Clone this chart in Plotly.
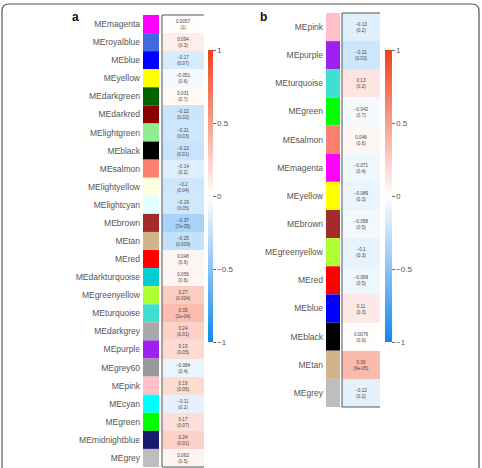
import plotly.graph_objects as go

W, H = 482, 468

# ---------------- data: panel a ----------------
a_labels = ["MEmagenta", "MEroyalblue", "MEblue", "MEyellow", "MEdarkgreen", "MEdarkred",
            "MElightgreen", "MEblack", "MEsalmon", "MElightyellow", "MElightcyan", "MEbrown",
            "MEtan", "MEred", "MEdarkturquoise", "MEgreenyellow", "MEturquoise", "MEdarkgrey",
            "MEpurple", "MEgrey60", "MEpink", "MEcyan", "MEgreen", "MEmidnightblue", "MEgrey"]
a_colors = ["#FF00FF", "#4169E1", "#0000FF", "#FFFF00", "#006400", "#8B0000",
            "#90EE90", "#000000", "#FA8072", "#FFFFE0", "#E0FFFF", "#A52A2A",
            "#D2B48C", "#FF0000", "#00CED1", "#ADFF2F", "#40E0D0", "#A9A9A9",
            "#A020F0", "#999999", "#FFC0CB", "#00FFFF", "#00FF00", "#191970", "#BEBEBE"]
a_values = [0.0057, 0.094, -0.17, -0.051, 0.031, -0.22,
            -0.21, -0.23, -0.14, -0.2, -0.19, -0.37,
            -0.25, 0.048, 0.056, 0.27, 0.35, 0.24,
            0.19, -0.084, 0.19, -0.11, 0.17, 0.24, 0.063]
a_pvals = ["1", "0.3", "0.07", "0.6", "0.7", "0.02",
           "0.03", "0.01", "0.2", "0.04", "0.05", "7e-05",
           "0.009", "0.6", "0.6", "0.004", "2e-04", "0.01",
           "0.05", "0.4", "0.05", "0.2", "0.07", "0.01", "0.5"]

# ---------------- data: panel b ----------------
b_labels = ["MEpink", "MEpurple", "MEturquoise", "MEgreen", "MEsalmon", "MEmagenta",
            "MEyellow", "MEbrown", "MEgreenyellow", "MEred", "MEblue", "MEblack",
            "MEtan", "MEgrey"]
b_colors = ["#FFC0CB", "#A020F0", "#40E0D0", "#00FF00", "#FA8072", "#FF00FF",
            "#FFFF00", "#A52A2A", "#ADFF2F", "#FF0000", "#0000FF", "#000000",
            "#D2B48C", "#BEBEBE"]
b_values = [-0.13, -0.21, 0.13, -0.042, 0.046, -0.071,
            -0.089, -0.058, -0.1, -0.069, 0.11, 0.0076,
            0.36, -0.12]
b_pvals = ["0.2", "0.03", "0.2", "0.7", "0.6", "0.4",
           "0.3", "0.5", "0.3", "0.5", "0.3", "0.9",
           "9e-05", "0.2"]

tick_vals = [-1, -0.5, 0, 0.5, 1]
tick_text = ["\u22121", "\u22120.5", "0", "0.5", "1"]

colorscale = [[0.0, "rgb(18,135,235)"], [0.5, "rgb(255,255,255)"], [1.0, "rgb(240,65,25)"]]
LABEL_FONT = dict(family="Liberation Sans, Arial", size=8.5, color="#555555")
CELL_FONT = dict(family="Liberation Sans, Arial", size=4.6, color="#444444")
TXT = "#555555"


def fmt(v):
    s = ("%g" % v)
    return s.replace("-", "\u2212")


def px_x(p):
    return p / W


def px_y(p):
    return 1 - p / H


fig = go.Figure()

def add_panel(labels, colors, values, pvals, xc, xv, ya, cbx, cbthick):
    text = [[f"{fmt(v)}<br>({p})"] for v, p in zip(values, pvals)]
    fig.add_trace(go.Bar(
        y=labels, x=[1] * len(labels), orientation="h", width=1,
        marker=dict(color=colors, line=dict(width=0)),
        xaxis=xc, yaxis=ya, showlegend=False, hoverinfo="skip"))
    fig.add_trace(go.Heatmap(
        x=[0], y=labels, z=[[v] for v in values], zmin=-1, zmax=1,
        colorscale=colorscale, text=text, texttemplate="%{text}",
        textfont=CELL_FONT, xaxis=xv, yaxis=ya, hoverinfo="skip",
        colorbar=dict(x=cbx, xanchor="left", thickness=cbthick, thicknessmode="pixels",
                      len=292 / H, lenmode="fraction", y=px_y(196), yanchor="middle",
                      outlinewidth=0, ticks="outside", ticklen=3, tickcolor="#666",
                      tickvals=tick_vals, ticktext=tick_text,
                      tickfont=dict(family="Liberation Sans, Arial", size=8, color=TXT),
                      xpad=0, ypad=0)))

add_panel(a_labels, a_colors, a_values, a_pvals, "x", "x2", "y", px_x(208), 5)
add_panel(b_labels, b_colors, b_values, b_pvals, "x3", "x4", "y2", px_x(385), 7)

hide = dict(showticklabels=False, showgrid=False, zeroline=False, ticks="", fixedrange=True)
fig.update_layout(
    width=W, height=H, margin=dict(l=0, r=0, t=0, b=0),
    paper_bgcolor="white", plot_bgcolor="white",
    xaxis=dict(domain=[px_x(143), px_x(159)], range=[0, 1], anchor="y", **hide),
    xaxis2=dict(domain=[px_x(162), px_x(204)], range=[-0.5, 0.5], anchor="y", **hide),
    xaxis3=dict(domain=[px_x(326), px_x(340)], range=[0, 1], anchor="y2", **hide),
    xaxis4=dict(domain=[px_x(342), px_x(380)], range=[-0.5, 0.5], anchor="y2", **hide),
    yaxis=dict(domain=[px_y(467), px_y(15)], anchor="x", type="category",
               categoryorder="array", categoryarray=a_labels,
               range=[len(a_labels) - 0.5, -0.5], showgrid=False, zeroline=False,
               ticks="", tickfont=LABEL_FONT, ticklabelstandoff=2),
    yaxis2=dict(domain=[px_y(407), px_y(13)], anchor="x3", type="category",
                categoryorder="array", categoryarray=b_labels,
                range=[len(b_labels) - 0.5, -0.5], showgrid=False, zeroline=False,
                ticks="", tickfont=LABEL_FONT, ticklabelstandoff=2),
)

# borders around value columns (left, top, bottom)
for xr, ya in (("x2", "y"), ("x4", "y2")):
    d = xr + " domain"
    yd = ya + " domain"
    line = dict(color="#555555", width=1)
    fig.add_shape(type="line", xref=d, yref=yd, x0=0, x1=0, y0=0, y1=1, line=line)
    fig.add_shape(type="line", xref=d, yref=yd, x0=0, x1=1, y0=1, y1=1, line=line)
    fig.add_shape(type="line", xref=d, yref=yd, x0=0, x1=1, y0=0, y1=0, line=line)

# outer rounded frame
x0, x1 = px_x(2), px_x(479)
top, bot = px_y(4), -0.05
rx, ry = 7 / W, 7 / H
path = (f"M {x0},{bot} L {x0},{top - ry} Q {x0},{top} {x0 + rx},{top} "
        f"L {x1 - rx},{top} Q {x1},{top} {x1},{top - ry} L {x1},{bot}")
fig.add_shape(type="path", xref="paper", yref="paper", path=path,
              line=dict(color="#555555", width=1.2))

# panel letters
for letter, xp in (("a", 75), ("b", 263)):
    fig.add_annotation(text=f"<b>{letter}</b>", x=px_x(xp), y=px_y(17), xref="paper",
                       yref="paper", showarrow=False, xanchor="center", yanchor="middle",
                       font=dict(family="Liberation Sans, Arial", size=12, color="#111"))

fig.write_html("out.html")
